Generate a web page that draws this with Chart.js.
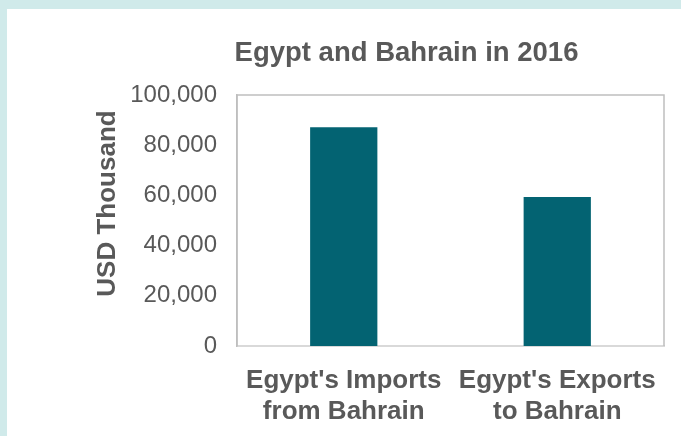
<!DOCTYPE html>
<html>
<head>
<meta charset="utf-8">
<script src="https://cdn.jsdelivr.net/npm/chart.js@4"></script>
<style>
  html, body { margin: 0; padding: 0; }
  body { width: 681px; height: 436px; background: #d0eaea; position: relative; overflow: hidden; }
  #wrap { position: absolute; left: 7px; top: 9px; width: 674px; height: 427px; background: #ffffff; }
</style>
</head>
<body>
<div id="wrap"><canvas id="myChart" width="674" height="427"></canvas></div>
<script>
const categories = [
    ["Egypt's Imports", 'from Bahrain'],
    ["Egypt's Exports", 'to Bahrain']
];
const tradeValues = [87200, 59400];
const chartTitle = 'Egypt and Bahrain in 2016';
const yAxisTitle = 'USD Thousand';

const textGray = '#595959';
const fontName = "'Liberation Sans', Arial, sans-serif";

// frame round the plot area, chart title and y title
const framePlugin = {
    id: 'frame',
    beforeDatasetsDraw(chart) {
        const a = chart.chartArea;
        const c = chart.ctx;
        c.save();
        c.strokeStyle = '#bfbfbf';
        c.lineWidth = 1.5;
        c.beginPath();
        c.moveTo(a.left, a.bottom);
        c.lineTo(a.left, a.top);
        c.lineTo(a.right, a.top);
        c.lineTo(a.right, a.bottom);
        c.stroke();
        c.restore();
    },
    afterDraw(chart) {
        const a = chart.chartArea;
        const c = chart.ctx;
        c.save();
        c.fillStyle = textGray;
        c.font = 'bold 27.5px ' + fontName;
        c.textAlign = 'center';
        c.textBaseline = 'alphabetic';
        c.fillText(chartTitle, (a.left + a.right) / 2 - 44, a.top - 34);

        c.font = 'bold 26px ' + fontName;
        c.textBaseline = 'middle';
        c.translate(a.left - 129, (a.top + a.bottom) / 2 - 17);
        c.rotate(-Math.PI / 2);
        c.fillText(yAxisTitle, 0, 0);
        c.restore();
    }
};

new Chart(document.querySelector('#myChart'), {
    type: 'bar',
    data: {
        labels: categories,
        datasets: [{
            data: tradeValues,
            backgroundColor: '#036372',
            barPercentage: 0.315,
            categoryPercentage: 1
        }]
    },
    options: {
        responsive: false,
        animation: false,
        layout: { padding: { left: 80, right: 17, top: 86, bottom: 0 } },
        plugins: {
            legend: { display: false },
            title: { display: false },
            tooltip: { enabled: false }
        },
        scales: {
            x: {
                grid: { display: false },
                border: { color: '#d9d9d9', width: 2 },
                ticks: {
                    color: textGray,
                    padding: 11,
                    maxRotation: 0,
                    font: { family: fontName, size: 26, weight: 'bold', lineHeight: 1.2 }
                },
                afterFit: (scale) => { scale.height = 90; }
            },
            y: {
                min: 0,
                max: 100000,
                grid: { display: false, drawTicks: false },
                border: { color: '#bfbfbf', width: 1.5 },
                ticks: {
                    stepSize: 20000,
                    color: textGray,
                    padding: 20,
                    font: { family: fontName, size: 24 },
                    callback: (v) => v.toLocaleString('en-US')
                },
                afterFit: (scale) => { scale.width = 150; }
            }
        }
    },
    plugins: [framePlugin]
});
</script>
</body>
</html>
